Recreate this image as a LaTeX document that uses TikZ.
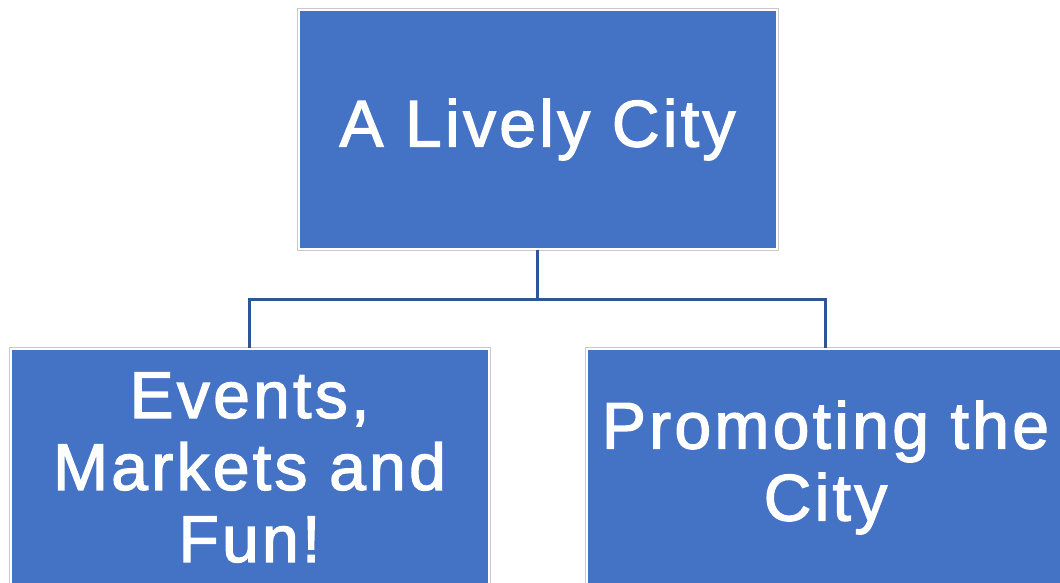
\documentclass[tikz,border=0pt]{standalone}
\usepackage{fontspec}
\setmainfont{Liberation Sans}[LetterSpace=5,FakeBold=2]
\definecolor{boxblue}{HTML}{4472C4}
\definecolor{linkblue}{HTML}{2F5597}
\definecolor{framegray}{HTML}{C8C8C8}
\begin{document}
\begin{tikzpicture}[x=1pt,y=1pt,
    level/.style={sibling distance=576pt,level distance=338pt},
    edge from parent/.style={draw=linkblue,line width=2.5pt},
    edge from parent path={(\tikzparentnode.south) -- ++(0,-50) -| (\tikzchildnode.north)}]
\clip (0,0) rectangle (1060,-583);
\tikzset{every node/.style={shape=rectangle,fill=boxblue,draw=white,line width=2pt,
                            preaction={draw=framegray,line width=4pt},
                            minimum width=478pt,minimum height=238pt,
                            text=white,align=center,
                            font=\fontsize{66}{72}\selectfont}}
\node (root) at (537.5,-129.5) {A Lively City}
    child {node (events) {Events,\\Markets and\\Fun!}}
    child {node (promo) {Promoting the\\City}}
    ;
\end{tikzpicture}
\end{document}
